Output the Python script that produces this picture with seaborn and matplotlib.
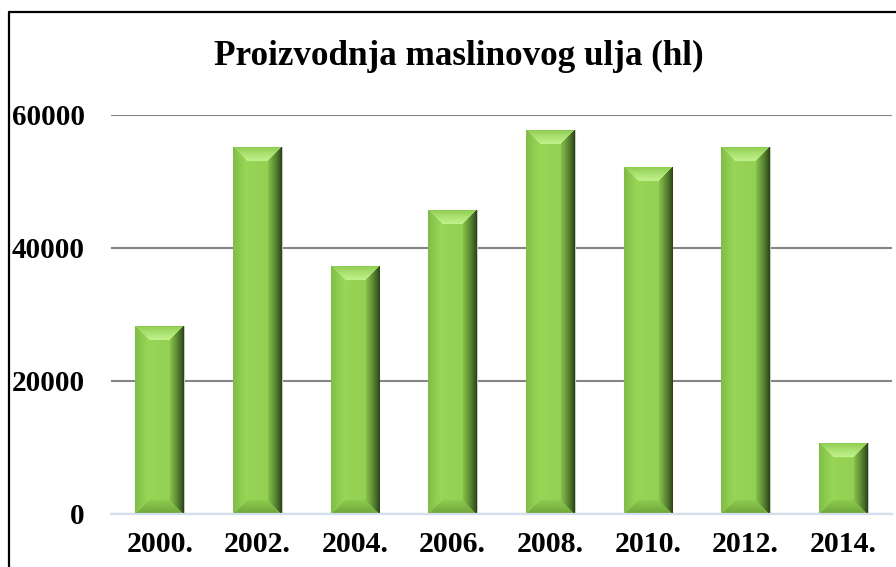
import numpy as np
import pandas as pd
import matplotlib
matplotlib.use("Agg")
import matplotlib.pyplot as plt
import seaborn as sns
from matplotlib.lines import Line2D

# ---- data ----
years = ["2000.", "2002.", "2004.", "2006.", "2008.", "2010.", "2012.", "2014."]
production_hl = [28200, 55100, 37200, 45700, 57700, 52100, 55100, 10600]
y_ticks = [0, 20000, 40000, 60000]
title = "Proizvodnja maslinovog ulja (hl)"

df = pd.DataFrame({"year": years, "hl": production_hl})

sns.set_theme(style="white")
plt.rcParams["font.family"] = ["Liberation Serif", "DejaVu Serif"]

W_PX, H_PX, DPI = 896, 567, 100
fig = plt.figure(figsize=(W_PX / DPI, H_PX / DPI), dpi=DPI)
ax = fig.add_axes([111 / W_PX, 53.3 / H_PX, (892 - 111) / W_PX, (513.7 - 114.7) / H_PX])

BODY = "#9ad957"
sns.barplot(data=df, x="year", y="hl", color=BODY, width=0.5, saturation=1,
            ax=ax, zorder=3)

ax.set_xlim(-0.5, len(years) - 0.5)
ax.set_ylim(0, 60000)
ax.set_yticks(y_ticks)
ax.set_yticklabels([str(t) for t in y_ticks])
ax.set_xlabel("")
ax.set_ylabel("")

ax.yaxis.grid(True, color="#858585", linewidth=1.5, zorder=0)
ax.xaxis.grid(False)
ax.set_axisbelow(True)
for s in ["left", "right", "top"]:
    ax.spines[s].set_visible(False)
ax.spines["bottom"].set_color("#d3dfee")
ax.spines["bottom"].set_linewidth(1.6)
ax.spines["bottom"].set_zorder(4)

ax.tick_params(axis="x", length=0, pad=12.5, labelsize=21.5)
ax.tick_params(axis="y", length=0, pad=19, labelsize=21)
for lab in ax.get_xticklabels() + ax.get_yticklabels():
    lab.set_fontweight("bold")
    lab.set_color("black")

# ---- bevel decoration derived from each bar's own geometry ----
def hex2rgb(h):
    h = h.lstrip("#")
    return np.array([int(h[i:i + 2], 16) / 255 for i in (0, 2, 4)])

body_c = hex2rgb(BODY)
sides = [
    (hex2rgb("#80ba46"), hex2rgb("#98d757")),  # left
    (hex2rgb("#263c14"), hex2rgb("#86c24b")),  # right
    (hex2rgb("#8ccb4e"), hex2rgb("#c2f28c")),  # top
    (hex2rgb("#6a9f38"), hex2rgb("#8ccb4f")),  # bottom
]

def bevel_img(W, H, b=14.0):
    u = np.arange(W) + 0.5
    v = np.arange(H) + 0.5
    U, V = np.meshgrid(u, v)
    d = np.stack([U, W - U, V, H - V])
    side = d.argmin(0)
    dmin = d.min(0)
    t = np.clip(dmin / b, 0, 1)
    img = np.empty((H, W, 3))
    shade = 1.0 - 0.06 * (U / W)
    img[:] = body_c[None, None, :] * shade[..., None]
    mask = dmin < b
    for s, (ce, ci) in enumerate(sides):
        m = mask & (side == s)
        tt = t[m][:, None] ** 0.8
        img[m] = ce + (ci - ce) * tt
    return np.clip(img, 0, 1)

fig.canvas.draw()
for p in ax.patches:
    x0, y0 = p.get_x(), p.get_y()
    w, h = p.get_width(), p.get_height()
    (px0, py0), (px1, py1) = ax.transData.transform([(x0, y0), (x0 + w, y0 + h)])
    Wp = max(int(round(px1 - px0)), 2)
    Hp = max(int(round(py1 - py0)), 2)
    img = bevel_img(Wp, Hp)
    ax.imshow(img, extent=(x0, x0 + w, y0, y0 + h), origin="upper",
              aspect="auto", interpolation="bilinear", zorder=3.5)
    p.set_edgecolor("#c9c9c9")
    p.set_linewidth(0.8)

ax.set_xlim(-0.5, len(years) - 0.5)
ax.set_ylim(0, 60000)

# ---- title ----
fig.text(459 / W_PX, 1 - 65 / H_PX, title, ha="center", va="baseline",
         fontsize=25.3, fontweight="bold", color="black")

# ---- outer frame (partly cropped in the reference) ----
fig.add_artist(Line2D([8.5 / W_PX, 8.5 / W_PX], [0, 1 - 12 / H_PX],
                      transform=fig.transFigure, color="black", linewidth=1.6))
fig.add_artist(Line2D([8.5 / W_PX, 1], [1 - 12 / H_PX, 1 - 12 / H_PX],
                      transform=fig.transFigure, color="black", linewidth=1.6))

fig.savefig("out.png", dpi=DPI, facecolor="white")
